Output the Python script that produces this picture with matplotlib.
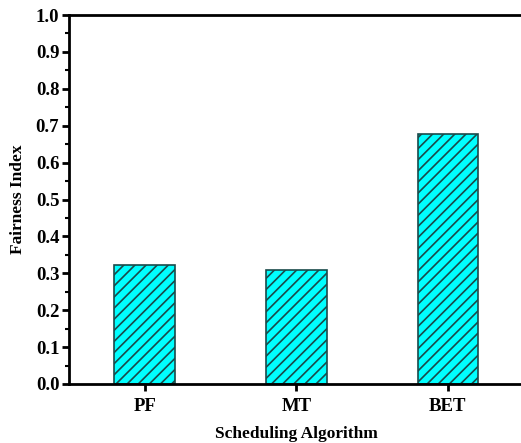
import numpy as np
import matplotlib.pyplot as plt
from matplotlib.ticker import MultipleLocator

# datos
algoritmos = ['PF', 'MT', 'BET']
fairness = [0.322, 0.308, 0.677]

plt.rcParams['font.family'] = ['Liberation Serif', 'DejaVu Serif']
plt.rcParams['font.weight'] = 'bold'
plt.rcParams['hatch.linewidth'] = 1.2
plt.rcParams['hatch.color'] = 'black'

fig = plt.figure(figsize=(5.21, 4.43), dpi=100)
ax = fig.add_axes([69/521, 1 - 384/443, 1 - 69/521 + 0.005, (384 - 15)/443])

x = np.arange(len(algoritmos))
ax.bar(x, fairness, width=0.4, color='#00ffff', edgecolor='#1a4a4a',
       linewidth=1.2, hatch='///')

ax.set_xlim(-0.5, 2.5)
ax.set_ylim(0, 1.0)
ax.set_xticks(x)
ax.set_xticklabels(algoritmos, fontsize=13.5, fontweight='bold')
ax.yaxis.set_minor_locator(MultipleLocator(0.05))
ax.set_yticks(np.arange(0, 1.01, 0.1))
ax.set_yticklabels([f'{v:.1f}' for v in np.arange(0, 1.01, 0.1)], fontsize=13.5, fontweight='bold')

for s in ['left', 'bottom', 'top']:
    ax.spines[s].set_linewidth(2)
ax.spines['right'].set_visible(False)
ax.tick_params(axis='both', which='major', direction='out', length=5, width=2, pad=2)
ax.tick_params(axis='y', which='minor', direction='out', length=3, width=1.5)
ax.tick_params(axis='x', which='major', pad=5)

ax.set_xlabel('Scheduling Algorithm', fontsize=12.5, fontweight='bold', labelpad=8)
ax.set_ylabel('Fairness Index', fontsize=12.5, fontweight='bold', labelpad=7)

fig.savefig('out.png', dpi=100)
